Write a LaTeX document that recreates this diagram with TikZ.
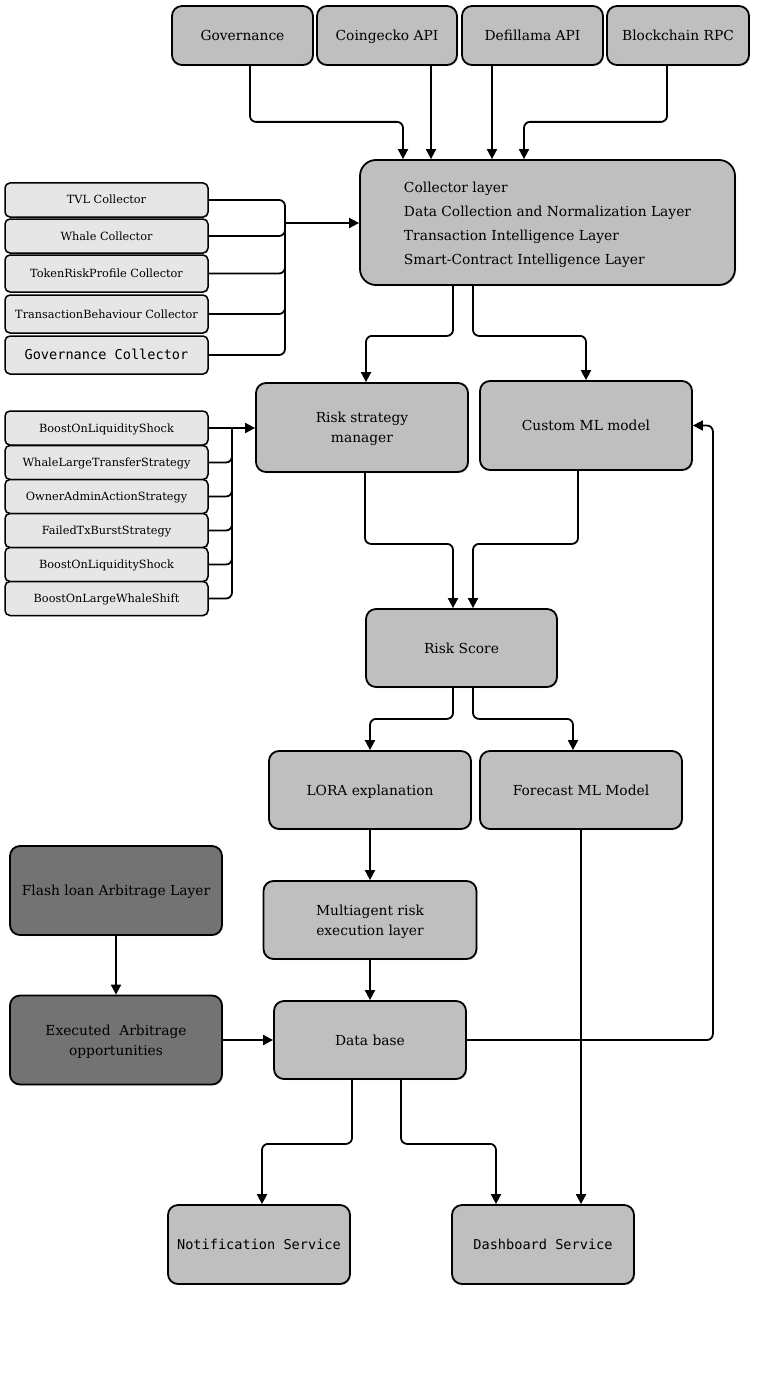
\documentclass[tikz,border=0pt]{standalone}
\usepackage{fontspec}
\setmainfont{DejaVu Serif}
\setmonofont{DejaVu Sans Mono}
\usetikzlibrary{arrows.meta,calc,shadows}
\definecolor{boxgray}{HTML}{BFBFBF}
\definecolor{darkgray}{HTML}{737373}
\definecolor{listgray}{HTML}{E6E6E6}
\newcommand{\tstrut}{\rule{0pt}{14pt}}
\begin{document}
\begin{tikzpicture}[x=1pt,y=-1pt,
  box/.style={draw=black, line width=1.8pt, rounded corners=10pt, fill=boxgray,
    inner sep=2pt, font=\fontsize{13.8}{20}\selectfont,
    drop shadow={shadow xshift=1.2pt, shadow yshift=-1.2pt, opacity=0.25}},
  oneline/.style={text height=10pt, text depth=0pt},
  multi/.style={align=center},
  darkbox/.style={box, fill=darkgray},
  listbox/.style={draw=black, line width=1.5pt, rounded corners=5pt, fill=listgray,
    minimum width=203pt, inner sep=1pt, font=\fontsize{11.3}{13}\selectfont,
    text height=8pt, text depth=0pt,
    drop shadow={shadow xshift=1pt, shadow yshift=-1pt, opacity=0.25}},
  conn/.style={draw=black, line width=1.8pt, rounded corners=6pt},
  arr/.style={conn, -{Triangle[width=10pt,length=10pt]}},
  monotxt/.style={font=\fontsize{13.6}{15}\ttfamily}
]
\useasboundingbox (0,0) rectangle (756,1375);

% top sources
\node[box, oneline, minimum width=141pt, minimum height=59pt] (gov) at (242.5,35.5) {Governance};
\node[box, oneline, minimum width=140pt, minimum height=59pt] (cg) at (387,35.5) {Coingecko API};
\node[box, oneline, minimum width=141pt, minimum height=59pt] (dl) at (532.5,35.5) {Defillama API};
\node[box, oneline, minimum width=142pt, minimum height=59pt] (rpc) at (678,35.5) {Blockchain RPC};

% collector layer
\node[box, minimum width=375pt, minimum height=125pt, rounded corners=16pt] (coll) at (547.5,222.5) {};
\node[font=\fontsize{13.8}{24}\selectfont, align=left, inner sep=0pt] (colltxt) at (547.5,224.5)
  {Collector layer\\Data Collection and Normalization Layer\\Transaction Intelligence Layer\\Smart-Contract Intelligence Layer};

% collectors
\node[listbox, minimum height=34pt] (tvl) at (106.5,200) {TVL Collector};
\node[listbox, minimum height=34pt] (whale) at (106.5,236) {Whale Collector};
\node[listbox, minimum height=37pt] (trp) at (106.5,273.5) {TokenRiskProfile Collector};
\node[listbox, minimum height=38pt] (txb) at (106.5,314) {TransactionBehaviour Collector};
\node[listbox, minimum height=38pt, font=\fontsize{13.6}{15}\ttfamily] (govc) at (106.5,355) {Governance Collector};

% strategies
\node[listbox, minimum height=34pt] (s1) at (106.5,428) {BoostOnLiquidityShock};
\node[listbox, minimum height=34pt] (s2) at (106.5,462.5) {WhaleLargeTransferStrategy};
\node[listbox, minimum height=34pt] (s3) at (106.5,496.5) {OwnerAdminActionStrategy};
\node[listbox, minimum height=34pt] (s4) at (106.5,530.5) {FailedTxBurstStrategy};
\node[listbox, minimum height=34pt] (s5) at (106.5,564.5) {BoostOnLiquidityShock};
\node[listbox, minimum height=34pt] (s6) at (106.5,598.5) {BoostOnLargeWhaleShift};

% middle
\node[box, multi, minimum width=212pt, minimum height=89pt] (rsm) at (362,427.5) {\tstrut Risk strategy\\manager};
\node[box, oneline, minimum width=212pt, minimum height=89pt] (cml) at (586,425.5) {Custom ML model};
\node[box, oneline, minimum width=191pt, minimum height=78pt] (rs) at (461.5,648) {Risk Score};
\node[box, oneline, minimum width=202pt, minimum height=78pt] (lora) at (370,790) {LORA explanation};
\node[box, oneline, minimum width=202pt, minimum height=78pt] (fc) at (581,790) {Forecast ML Model};
\node[box, multi, minimum width=213pt, minimum height=78pt] (multi) at (370,920) {\tstrut Multiagent risk\\execution layer};
\node[box, oneline, minimum width=192pt, minimum height=78pt] (db) at (370,1040) {Data base};
\node[darkbox, oneline, minimum width=212pt, minimum height=89pt] (flash) at (116,890.5) {Flash loan Arbitrage Layer};
\node[darkbox, multi, minimum width=212pt, minimum height=89pt] (exec) at (116,1040) {\tstrut Executed\ \ Arbitrage\\opportunities};
\node[box, oneline, minimum width=182pt, minimum height=79pt, monotxt] (notif) at (259,1244.5) {Notification Service};
\node[box, oneline, minimum width=182pt, minimum height=79pt, monotxt] (dash) at (543,1244.5) {Dashboard Service};

% bus coordinates
\coordinate (bus1) at (285,223);
\coordinate (bus2) at (232,428);

% sources -> collector
\draw[arr] ([xshift=7.5]gov.south) -- ++(0,56) -| ([xshift=-144.5]coll.north);
\draw[arr] ([xshift=44]cg.south) -- ([xshift=44]cg.south |- coll.north);
\draw[arr] ([xshift=-40.5]dl.south) -- ([xshift=-40.5]dl.south |- coll.north);
\draw[arr] ([xshift=-11]rpc.south) -- ++(0,56) -| ([xshift=-23.5]coll.north);

% collectors -> collector layer
\draw[conn] (tvl.east) -| (bus1);
\draw[conn] (whale.east) -| (bus1);
\draw[conn] (trp.east) -| (bus1);
\draw[conn] (txb.east) -| (bus1);
\draw[conn] (govc.east) -| (bus1);
\draw[arr] (bus1) -- (bus1 -| coll.west);

% strategies -> risk strategy manager
\draw[conn] (s1.east) -- (bus2);
\draw[conn] (s2.east) -| (bus2);
\draw[conn] (s3.east) -| (bus2);
\draw[conn] (s4.east) -| (bus2);
\draw[conn] (s5.east) -| (bus2);
\draw[conn] (s6.east) -| (bus2);
\draw[arr] (bus2) -- (bus2 -| rsm.west);

% collector -> rsm / cml
\draw[arr] ([xshift=-94.5]coll.south) -- ++(0,50) -| ([xshift=4]rsm.north);
\draw[arr] ([xshift=-74.5]coll.south) -- ++(0,50) -| (cml.north);

% rsm / cml -> risk score
\draw[arr] ([xshift=3]rsm.south) -- ++(0,71) -| ([xshift=-8.5]rs.north);
\draw[arr] ([xshift=-8]cml.south) -- ++(0,73) -| ([xshift=11.5]rs.north);

% risk score -> lora / forecast
\draw[arr] ([xshift=-8.5]rs.south) -- ++(0,31) -| (lora.north);
\draw[arr] ([xshift=11.5]rs.south) -- ++(0,31) -| ([xshift=-8]fc.north);

% chain
\draw[arr] (lora.south) -- (lora.south |- multi.north);
\draw[arr] (multi.south) -- (multi.south |- db.north);
\draw[arr] (flash.south) -- (exec.north);
\draw[arr] (exec.east) -- (exec.east -| db.west);
\draw[arr] (db.east) -- ++(246,0) |- (cml.east);

% db -> services
\draw[arr] ([xshift=-18]db.south) -- ++(0,64) -| ([xshift=3]notif.north);
\draw[arr] ([xshift=31]db.south) -- ++(0,64) -| ([xshift=-47]dash.north);
\draw[arr] (fc.south) -- (fc.south |- dash.north);
\end{tikzpicture}
\end{document}
